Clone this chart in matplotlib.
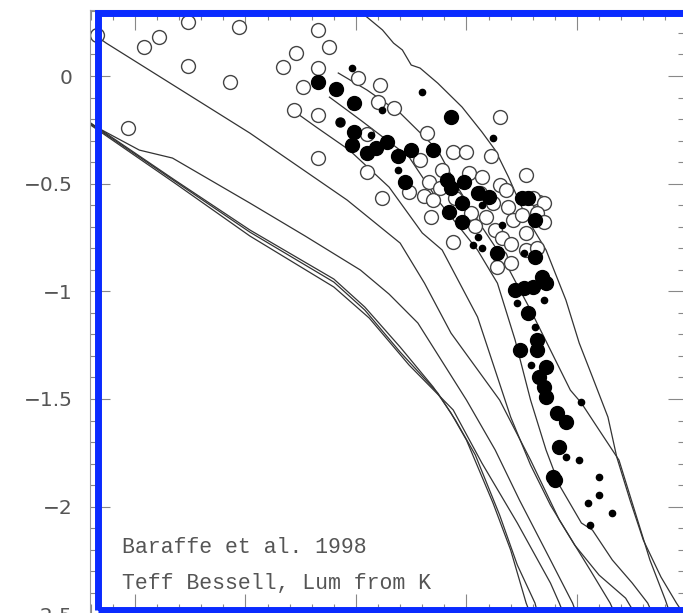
#HR diagram with Baraffe et al. 1998 isochrones
#Teff from Bessell scale, luminosity from K

import numpy as np
import matplotlib.pyplot as plt
from matplotlib.ticker import MultipleLocator, FuncFormatter
from matplotlib.patches import Rectangle

#isochrones (log Teff, log L)
iso1_x=[3.620,3.582,3.548,3.510,3.496,3.480,3.465,3.457,3.450,3.438,3.430,3.423,3.420]
iso1_y=[-0.218,-0.483,-0.715,-0.943,-1.073,-1.259,-1.445,-1.565,-1.691,-1.983,-2.202,-2.448,-2.527]
iso2_x=[3.620,3.582,3.548,3.510,3.496,3.480,3.463,3.455,3.446,3.435,3.427,3.419,3.417]
iso2_y=[-0.223,-0.488,-0.725,-0.957,-1.087,-1.282,-1.472,-1.598,-1.760,-2.039,-2.271,-2.448,-2.527]
iso3_x=[3.620,3.582,3.548,3.510,3.494,3.476,3.456,3.443,3.427,3.412,3.408,3.405]
iso3_y=[-0.228,-0.497,-0.743,-0.980,-1.124,-1.342,-1.551,-1.798,-2.076,-2.355,-2.448,-2.527]
iso4_x=[3.620,3.598,3.583,3.548,3.523,3.498,3.485,3.472,3.450,3.437,3.426,3.412,3.402,3.400]
iso4_y=[-0.223,-0.344,-0.381,-0.590,-0.743,-0.901,-1.013,-1.147,-1.505,-1.737,-1.970,-2.248,-2.448,-2.504]
iso5_x=[3.620,3.613,3.548,3.504,3.480,3.469,3.457,3.435,3.421,3.408,3.394,3.385,3.383]
iso5_y=[0.204,0.153,-0.265,-0.576,-0.776,-0.962,-1.194,-1.505,-1.784,-2.062,-2.295,-2.448,-2.494]
iso6_x=[3.530,3.518,3.503,3.485,3.470,3.461,3.445,3.430,3.421,3.412,3.401,3.390,3.378,3.374]
iso6_y=[-0.149,-0.237,-0.344,-0.516,-0.729,-0.808,-1.119,-1.584,-1.807,-1.993,-2.179,-2.318,-2.425,-2.494]
iso7_x=[3.512,3.498,3.476,3.463,3.445,3.436,3.428,3.421,3.414,3.408,3.398,3.393,3.384,3.375,3.368,3.366]
iso7_y=[-0.098,-0.204,-0.376,-0.576,-0.808,-0.962,-1.226,-1.505,-1.737,-1.900,-2.076,-2.109,-2.248,-2.355,-2.448,-2.494]
iso8_x=[3.508,3.495,3.480,3.463,3.454,3.443,3.433,3.421,3.412,3.403,3.398,3.390,3.381,3.374,3.367,3.360,3.358]
iso8_y=[0.014,-0.065,-0.172,-0.344,-0.516,-0.701,-0.855,-1.087,-1.273,-1.459,-1.519,-1.644,-1.784,-2.016,-2.248,-2.434,-2.494]
iso9_x=[3.500,3.488,3.483,3.479,3.475,3.471,3.463,3.452,3.443,3.437,3.431,3.423,3.414,3.405,3.399,3.393,3.386,3.382,3.376,3.370,3.362,3.355,3.352]
iso9_y=[0.316,0.214,0.153,0.121,0.051,0.037,-0.033,-0.144,-0.260,-0.344,-0.469,-0.655,-0.808,-1.041,-1.240,-1.398,-1.584,-1.770,-1.970,-2.155,-2.327,-2.448,-2.494]

#open circles
open_x=[3.617,3.603,3.596,3.589,3.576,3.576,3.557,3.553,3.533,3.527,3.517,3.512,3.517,3.524,3.528,3.517,3.517,
        3.499,3.489,3.490,3.483,3.495,3.495,3.488,3.468,3.456,3.450,3.439,3.435,3.423,3.417,3.476,3.469,3.465,
        3.471,3.461,3.449,3.443,3.467,3.462,3.455,3.444,3.435,3.432,3.438,3.431,3.466,3.448,3.441,3.446,3.437,
        3.429,3.425,3.420,3.415,3.418,3.423,3.415,3.456,3.434,3.430,3.435,3.423,3.418,3.436,3.430]
open_y=[0.190,-0.242,0.135,0.181,0.251,0.046,-0.028,0.228,0.042,0.107,0.214,0.135,0.037,-0.051,-0.158,-0.181,-0.381,
        -0.009,-0.042,-0.121,-0.149,-0.269,-0.446,-0.567,-0.265,-0.353,-0.353,-0.372,-0.190,-0.460,-0.585,-0.539,-0.557,-0.576,
        -0.390,-0.437,-0.451,-0.469,-0.492,-0.520,-0.567,-0.544,-0.506,-0.530,-0.590,-0.609,-0.655,-0.636,-0.655,-0.697,-0.715,
        -0.669,-0.646,-0.567,-0.590,-0.636,-0.729,-0.678,-0.771,-0.753,-0.780,-0.841,-0.808,-0.799,-0.887,-0.869]

#filled circles
big_x=[3.517,3.509,3.501,3.501,3.502,3.495,3.491,3.486,3.481,3.475,3.465,3.478,3.457,3.459,3.457,3.451,3.445,3.440,
       3.452,3.458,3.452,3.425,3.422,3.419,3.436,3.419,3.416,3.414,3.428,3.424,3.420,3.422,3.418,3.426,3.418,3.414,
       3.417,3.415,3.414,3.409,3.405,3.408,3.411,3.410]
big_y=[-0.028,-0.060,-0.125,-0.260,-0.321,-0.358,-0.334,-0.307,-0.372,-0.344,-0.344,-0.492,-0.190,-0.483,-0.520,-0.492,-0.544,-0.562,
       -0.590,-0.632,-0.678,-0.567,-0.567,-0.669,-0.822,-0.841,-0.934,-0.962,-0.994,-0.985,-0.980,-1.101,-1.226,-1.273,-1.273,-1.352,
       -1.398,-1.445,-1.491,-1.565,-1.607,-1.723,-1.863,-1.877]

#small filled dots
small_x=[3.502,3.470,3.488,3.493,3.481,3.438,3.443,3.445,3.443,3.424,3.434,3.447,3.427,3.421,3.398,3.405,3.399,3.390,
         3.390,3.395,3.384,3.394,3.419,3.415]
small_y=[0.037,-0.074,-0.158,-0.274,-0.437,-0.288,-0.599,-0.748,-0.799,-0.822,-0.692,-0.785,-1.054,-1.342,-1.514,-1.770,-1.784,-1.863,
         -1.946,-1.983,-2.030,-2.086,-1.166,-1.041]
mid_x=[3.507]
mid_y=[-0.214]

fig=plt.figure(figsize=(6.83,6.13),dpi=100)
ax=fig.add_axes([0.1325,-0.0021,0.8741,0.9866])

for xs,ys in [(iso1_x,iso1_y),(iso2_x,iso2_y),(iso3_x,iso3_y),(iso4_x,iso4_y),(iso5_x,iso5_y),
              (iso6_x,iso6_y),(iso7_x,iso7_y),(iso8_x,iso8_y),(iso9_x,iso9_y)]:
    ax.plot(xs,ys,color='#333333',linewidth=0.9)

ax.plot(open_x,open_y,linestyle='none',marker='o',markersize=10,markerfacecolor='white',
        markeredgecolor='#444444',markeredgewidth=1.0)
ax.plot(big_x,big_y,linestyle='none',marker='o',markersize=10,color='black')
ax.plot(small_x,small_y,linestyle='none',marker='o',markersize=4.5,color='black')
ax.plot(mid_x,mid_y,linestyle='none',marker='o',markersize=6.5,color='black')

ax.text(3.606,-2.216,'Baraffe et al. 1998',family='Liberation Mono',fontsize=15.5,color='#555555')
ax.text(3.606,-2.383,'Teff Bessell, Lum from K',family='Liberation Mono',fontsize=15.5,color='#555555')

ax.set_xlim(3.6201,3.35)
ax.set_ylim(-2.5,0.309)
ax.xaxis.set_major_locator(MultipleLocator(0.05))
ax.xaxis.set_minor_locator(MultipleLocator(0.01))
ax.yaxis.set_major_locator(MultipleLocator(0.5))
ax.yaxis.set_minor_locator(MultipleLocator(0.1))
ax.yaxis.set_major_formatter(FuncFormatter(lambda v,p:('%g'%v).replace('-','\u2212')))
ax.tick_params(which='both',direction='in',top=True,right=True,color='#888888',width=0.8,
               labelbottom=False,labelsize=14.5,labelcolor='#555555')
ax.tick_params(which='major',length=14.4,pad=13)
ax.tick_params(which='minor',length=7.2)
for s in ax.spines.values():
    s.set_color('#999999')
    s.set_linewidth(0.8)

#blue frame drawn on top
fig.add_artist(Rectangle((0.1442,0.0041),0.9,0.9742,transform=fig.transFigure,fill=False,
                         edgecolor='#0a2bff',linewidth=5.0,zorder=10))

plt.savefig('out.png',dpi=100)
